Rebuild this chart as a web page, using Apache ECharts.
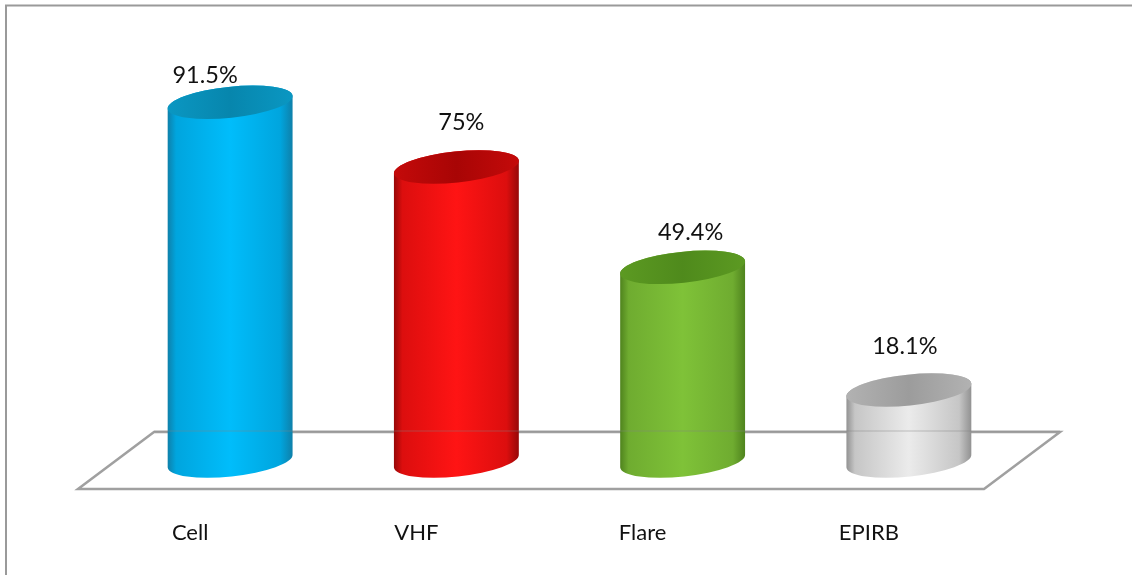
<!DOCTYPE html>
<html>
<head>
<meta charset="utf-8">
<style>html,body{margin:0;padding:0;background:#fff}#c{width:1132px;height:575px}</style>
<script src="https://cdn.jsdelivr.net/npm/echarts@6/dist/echarts.min.js"></script>
</head>
<body>
<div id="c"></div>
<script>
const categories = ['Cell', 'VHF', 'Flare', 'EPIRB'];
const values = [91.5, 75, 49.4, 18.1];
const valueLabels = ['91.5%', '75%', '49.4%', '18.1%'];

// Cylinder shading per bar: edge, mid, bright, cap dark, cap light
const shades = [
  ['#0f7fa8', '#00a5de', '#00bdfb', '#0786ad', '#0a97c2'],
  ['#940808', '#dc0e0e', '#ff1414', '#a80505', '#c40a0a'],
  ['#4e821d', '#6fac30', '#7fc238', '#4f8a1c', '#5c9a22'],
  ['#909090', '#c6c6c6', '#ebebeb', '#9c9c9c', '#b2b2b2']
];
// Label nudges relative to each cylinder's top centre
const labelNudge = [[-25, -27], [5, -45], [8, -35], [-4, -44]];

const FONT = 'Lato, "Open Sans", sans-serif';
const GREY = '#a0a0a0';
const RY = 15.5, TILT = -6;

function renderCylinder(params, api) {
  const i = params.dataIndex;
  const top = api.coord([api.value(0), api.value(1)]);
  const base = api.coord([api.value(0), 0]);
  const rx = api.size([1, 0])[0] * 0.276;
  const t = TILT * Math.PI / 180;
  const dy = rx * Math.tan(-t);
  const R = rx / Math.cos(t);
  const s = shades[i];
  const cx = top[0];
  const L = cx - rx, Rt = cx + rx;
  const arc = (x, y, sweep) => `A ${R} ${RY} ${TILT} 0 ${sweep} ${x} ${y}`;

  const body = `M ${L} ${top[1] + dy} L ${L} ${base[1] + dy} ` +
    arc(Rt, base[1] - dy, 0) +
    ` L ${Rt} ${top[1] - dy} ` +
    arc(L, top[1] + dy, 0) + ' Z';
  const cap = `M ${L} ${top[1] + dy} ` +
    arc(Rt, top[1] - dy, 1) + ' ' +
    arc(L, top[1] + dy, 1) + ' Z';

  const grad = {
    type: 'linear', x: 0, y: 0, x2: 1, y2: 0,
    colorStops: [
      { offset: 0, color: s[0] }, { offset: 0.07, color: s[1] },
      { offset: 0.5, color: s[2] }, { offset: 0.9, color: s[1] },
      { offset: 1, color: s[0] }
    ]
  };
  const capGrad = {
    type: 'linear', x: 0, y: 0, x2: 1, y2: 0,
    colorStops: [
      { offset: 0, color: s[4] }, { offset: 0.5, color: s[3] }, { offset: 1, color: s[4] }
    ]
  };
  return {
    type: 'group',
    children: [
      { type: 'path', shape: { pathData: body }, style: { fill: grad } },
      { type: 'path', shape: { pathData: cap }, style: { fill: capGrad } },
      {
        type: 'text',
        style: {
          text: valueLabels[i], x: cx + labelNudge[i][0], y: top[1] + labelNudge[i][1],
          align: 'center', verticalAlign: 'middle',
          font: '23.5px ' + FONT, fill: '#111'
        }
      }
    ]
  };
}

const chart = echarts.init(document.getElementById('c'), null, { renderer: 'canvas' });
chart.setOption({
  animation: false,
  backgroundColor: '#fff',
  grid: { left: 117, right: 110, top: 69, bottom: 114 },
  xAxis: {
    type: 'category', data: categories,
    axisLine: { show: false }, axisTick: { show: false }, splitLine: { show: false },
    axisLabel: { color: '#111', fontSize: 22, fontFamily: FONT, margin: 61, padding: [0, 80, 0, 0] }
  },
  yAxis: { type: 'value', min: 0, max: 100, show: false },
  graphic: [
    { type: 'polyline', z: 0, silent: true, shape: { points: [[6, 575], [6, 5.5], [1132, 5.5]] }, style: { stroke: '#9a9a9a', lineWidth: 2, fill: null } },
    { type: 'polygon', z: 0, silent: true, shape: { points: [[78, 489], [984, 489], [1060, 432], [154, 432]] }, style: { stroke: GREY, lineWidth: 2.5, fill: null } },
    { type: 'line', z: 100, silent: true, shape: { x1: 154, y1: 431, x2: 1060, y2: 431 }, style: { stroke: '#808080', lineWidth: 1.5, opacity: 0.3 } }
  ],
  series: [{
    type: 'custom',
    coordinateSystem: 'cartesian2d',
    encode: { x: 0, y: 1 },
    data: categories.map((c, i) => [i, values[i]]),
    renderItem: renderCylinder
  }]
});
</script>
</body>
</html>
